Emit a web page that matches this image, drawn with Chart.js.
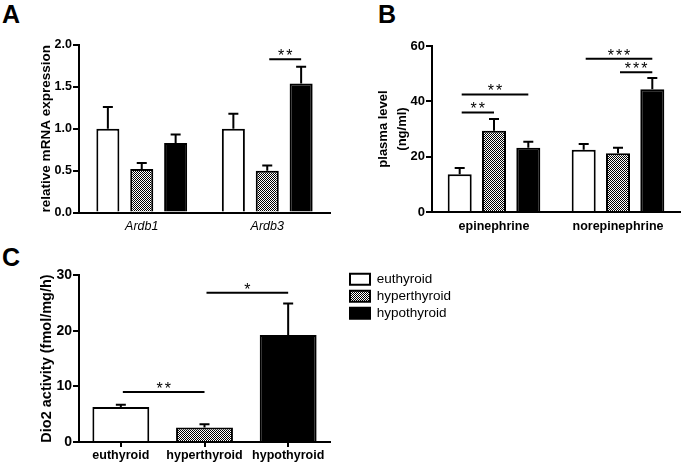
<!DOCTYPE html>
<html>
<head>
<meta charset="utf-8">
<script src="https://cdn.jsdelivr.net/npm/chart.js@4.4.0/dist/chart.umd.min.js"></script>
<style>
  body { margin: 0; background: #fff; width: 685px; height: 464px; position: relative; overflow: hidden;
         font-family: Arial, "Liberation Sans", Helvetica, sans-serif; }
  canvas { position: absolute; }
  .tag { position: absolute; font-size: 25px; font-weight: bold; line-height: 1; color: #000; }
</style>
</head>
<body>
<div class="tag" style="left:2px;top:2px">A</div>
<div class="tag" style="left:378px;top:2px">B</div>
<div class="tag" style="left:2px;top:245px">C</div>
<canvas id="chartA" width="340" height="240" style="left:0;top:0"></canvas>
<canvas id="chartB" width="345" height="240" style="left:340px;top:0"></canvas>
<canvas id="chartC" width="685" height="224" style="left:0;top:240px"></canvas>
<script>
// ---- data ----
const seriesNames = ['euthyroid', 'hyperthyroid', 'hypothyroid'];

// A: relative mRNA expression
const genesA = ['Ardb1', 'Ardb3'];
const euthA = [1.0, 1.0];
const euthErrA = [0.26, 0.18];
const hyperA = [0.52, 0.50];
const hyperErrA = [0.07, 0.06];
const hypoA = [0.83, 1.54];
const hypoErrA = [0.10, 0.20];
const sigA = [{ from: [1, 1], to: [1, 2], at: 1.83, label: '**' }];

// B: plasma level (ng/ml)
const hormonesB = ['epinephrine', 'norepinephrine'];
const euthB = [13.6, 22.5];
const euthErrB = [2.3, 2.1];
const hyperB = [29.4, 21.2];
const hyperErrB = [4.2, 2.0];
const hypoB = [23.2, 44.4];
const hypoErrB = [2.2, 4.0];
const sigB = [
  { from: [0, 0], to: [0, 1], at: 36, label: '**' },
  { from: [0, 0], to: [0, 2], at: 42.5, label: '**' },
  { from: [1, 1], to: [1, 2], at: 50.5, label: '***' },
  { from: [1, 0], to: [1, 2], at: 55.4, label: '***' }
];

// C: Dio2 activity
const groupsC = ['euthyroid', 'hyperthyroid', 'hypothyroid'];
const dio2C = [6.3, 2.6, 19.2];
const dio2ErrC = [0.4, 0.6, 5.7];
const sigC = [
  { from: [0, 0], to: [1, 1], at: 9.0, label: '**' },
  { from: [1, 1], to: [2, 2], at: 26.8, label: '*' }
];

// ---- helpers ----
Chart.defaults.font.family = 'Arial, "Liberation Sans", Helvetica, sans-serif';
Chart.defaults.color = '#000';
Chart.defaults.animation = false;

function makeHatch() {
  const c = document.createElement('canvas');
  c.width = 2; c.height = 2;
  const g = c.getContext('2d');
  g.fillStyle = '#fff'; g.fillRect(0, 0, 2, 2);
  g.fillStyle = '#000'; g.fillRect(0, 0, 1, 1); g.fillRect(1, 1, 1, 1);
  return g.createPattern(c, 'repeat');
}
const fills = ['#ffffff', makeHatch(), '#000000'];

function bars(k, values, errors) {
  return {
    label: seriesNames[k], data: values, errors: errors,
    backgroundColor: fills[k], borderColor: '#000', borderWidth: 2, yAxisID: 'y'
  };
}

const errorBars = {
  id: 'errorBars',
  afterDatasetsDraw(chart) {
    const ctx = chart.ctx, y = chart.scales.y;
    ctx.save();
    ctx.strokeStyle = '#000';
    ctx.lineWidth = 2;
    chart.data.datasets.forEach((ds, i) => {
      chart.getDatasetMeta(i).data.forEach((bar, j) => {
        if (ds.data[j] == null) return;
        const top = y.getPixelForValue(ds.data[j] + ds.errors[j]);
        ctx.beginPath();
        ctx.moveTo(bar.x, bar.y); ctx.lineTo(bar.x, top);
        ctx.moveTo(bar.x - 5, top); ctx.lineTo(bar.x + 5, top);
        ctx.stroke();
      });
    });
    ctx.restore();
  }
};

function sigMarks(marks) {
  return {
    id: 'sigMarks',
    afterDatasetsDraw(chart) {
      const ctx = chart.ctx, y = chart.scales.y;
      ctx.save();
      ctx.strokeStyle = '#000';
      ctx.fillStyle = '#000';
      ctx.lineWidth = 2;
      ctx.font = '16px Arial, "Liberation Sans", sans-serif';
      ctx.textAlign = 'center';
      ctx.textBaseline = 'alphabetic';
      ctx.letterSpacing = '2px';
      marks.forEach(m => {
        const x1 = chart.getDatasetMeta(m.from[1]).data[m.from[0]].x + 2;
        const x2 = chart.getDatasetMeta(m.to[1]).data[m.to[0]].x;
        const py = y.getPixelForValue(m.at);
        ctx.beginPath();
        ctx.moveTo(x1, py); ctx.lineTo(x2, py);
        ctx.stroke();
        ctx.fillText(m.label, (x1 + x2) / 2 + 1, py + 2);
      });
      ctx.restore();
    }
  };
}

function yAxis(width, max, step, title, titlePad, tickSize, fmt, titleSize, lineHeight) {
  return {
    min: 0, max: max,
    afterFit(s) { s.width = width; },
    ticks: { stepSize: step, padding: 1, font: { size: tickSize, weight: 'bold' }, callback: fmt },
    grid: { display: true, drawOnChartArea: false, drawTicks: true, tickLength: 6, color: '#000', lineWidth: 2 },
    border: { display: true, color: '#000', width: 2 },
    title: { display: true, text: title, padding: { top: titlePad, bottom: 0 },
             font: { size: titleSize, weight: 'bold', lineHeight: lineHeight || 1.2 } }
  };
}

// ---- A ----
new Chart(document.getElementById('chartA'), {
  type: 'bar',
  data: {
    labels: genesA,
    datasets: [bars(0, euthA, euthErrA), bars(1, hyperA, hyperErrA), bars(2, hypoA, hypoErrA)]
  },
  options: {
    responsive: false,
    categoryPercentage: 0.81,
    barPercentage: 0.68,
    layout: { padding: { left: 0, top: 45, right: 10, bottom: 0 } },
    plugins: { legend: { display: false }, tooltip: { enabled: false } },
    scales: {
      x: {
        afterFit(s) { s.height = 27.5; },
        ticks: { padding: 7, font: { size: 12.5, style: 'italic' } },
        grid: { display: false, drawTicks: false },
        border: { display: true, color: '#000', width: 2 }
      },
      y: yAxis(79, 2, 0.5, 'relative mRNA expression', 38, 12.5, v => v.toFixed(1), 13.5)
    }
  },
  plugins: [errorBars, sigMarks(sigA)]
});

// ---- B ----
new Chart(document.getElementById('chartB'), {
  type: 'bar',
  data: {
    labels: hormonesB,
    datasets: [bars(0, euthB, euthErrB), bars(1, hyperB, hyperErrB), bars(2, hypoB, hypoErrB)]
  },
  options: {
    responsive: false,
    categoryPercentage: 0.83,
    barPercentage: 0.70,
    layout: { padding: { left: 0, top: 46, right: 5, bottom: 0 } },
    plugins: { legend: { display: false }, tooltip: { enabled: false } },
    scales: {
      x: {
        afterFit(s) { s.height = 28; },
        ticks: { padding: 7, font: { size: 12.5, weight: 'bold' } },
        grid: { display: false, drawTicks: false },
        border: { display: true, color: '#000', width: 2 }
      },
      y: yAxis(92, 60, 20, ['plasma level', '(ng/ml)'], 34, 13, v => v, 13, 1.45)
    }
  },
  plugins: [errorBars, sigMarks(sigB)]
});

// ---- C ----
const datasetsC = seriesNames.map((name, k) => Object.assign(
  bars(k, groupsC.map((g, j) => j === k ? dio2C[k] : null), dio2ErrC),
  { skipNull: true }
));

new Chart(document.getElementById('chartC'), {
  type: 'bar',
  data: { labels: groupsC, datasets: datasetsC },
  options: {
    responsive: false,
    categoryPercentage: 0.8,
    barPercentage: 0.85,
    layout: { padding: { left: 0, top: 29, right: 228.5, bottom: 0 } },
    plugins: {
      tooltip: { enabled: false },
      title: { display: true, text: '', font: { size: 5, lineHeight: 1 }, padding: { top: 0, bottom: 1 } },
      legend: {
        position: 'right', align: 'start', maxWidth: 110,
        labels: { boxWidth: 20, boxHeight: 11, padding: 3.5, color: '#000', font: { size: 13.5 } }
      }
    },
    scales: {
      x: {
        afterFit(s) { s.height = 22; },
        ticks: { padding: 1, font: { size: 12.5, weight: 'bold' } },
        grid: { display: true, offset: false, drawOnChartArea: false, tickLength: 5, color: '#000', lineWidth: 2 },
        border: { display: true, color: '#000', width: 2 }
      },
      y: yAxis(79, 30, 10, 'Dio2 activity (fmol/mg/h)', 38, 14, v => v, 14.5),
      gap: {
        axis: 'y', position: 'right', display: true,
        afterFit(s) { s.width = 16.5; },
        ticks: { display: false }, grid: { display: false }, border: { display: false }
      }
    }
  },
  plugins: [errorBars, sigMarks(sigC)]
});
</script>
</body>
</html>
